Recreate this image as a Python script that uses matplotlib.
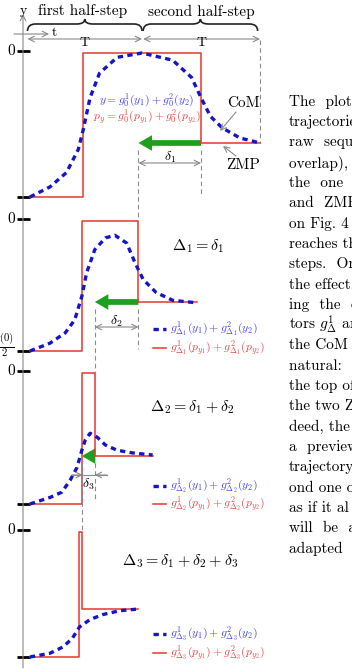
import matplotlib
matplotlib.use("Agg")
import matplotlib.pyplot as plt
from matplotlib.path import Path
from matplotlib.patches import PathPatch, FancyArrowPatch

plt.rcParams['mathtext.fontset'] = 'cm'
plt.rcParams['font.family'] = ['cmr10', 'DejaVu Serif']
plt.rcParams['axes.formatter.use_mathtext'] = True

# --- data (time in units of T, value 0 = start level, 1 = "0" line) ---
zmp_rise = [0.50, 0.49, 0.49, 0.47]
zmp_fall = [1.50, 0.97, 0.60, 0.49]
zmp_end = [2.00, 1.47, 1.09, 0.97]
zmp_start = 0.05
zmp_top = 1.0
zmp_final = [0.375, 0.377, 0.366, 0.384]

com_t = [
    [0.05, 0.22, 0.36, 0.46, 0.50, 0.56, 0.64, 0.79, 1.00, 1.26, 1.42, 1.50, 1.58, 1.68, 1.83, 2.00],
    [0.05, 0.22, 0.35, 0.43, 0.49, 0.53, 0.60, 0.69, 0.77, 0.87, 0.94, 1.01, 1.12, 1.26, 1.47],
    [0.05, 0.22, 0.32, 0.39, 0.45, 0.49, 0.52, 0.56, 0.62, 0.69, 0.79, 0.92, 1.09],
    [0.05, 0.22, 0.33, 0.41, 0.47, 0.56, 0.67, 0.81, 0.97],
]
com_y = [
    [0.00, 0.07, 0.17, 0.33, 0.46, 0.69, 0.86, 0.97, 1.00, 0.95, 0.83, 0.69, 0.56, 0.48, 0.41, 0.375],
    [0.00, 0.06, 0.14, 0.24, 0.42, 0.60, 0.78, 0.87, 0.89, 0.83, 0.68, 0.55, 0.45, 0.39, 0.37],
    [0.00, 0.05, 0.09, 0.18, 0.28, 0.41, 0.49, 0.54, 0.51, 0.45, 0.41, 0.39, 0.374],
    [0.00, 0.03, 0.08, 0.15, 0.24, 0.30, 0.34, 0.37, 0.384],
]
delta_names = [r'$\delta_1$', r'$\delta_2$', r'$\delta_3$']
delta_titles = [r'$\Delta_1 = \delta_1$', r'$\Delta_2 = \delta_1 + \delta_2$',
                r'$\Delta_3 = \delta_1 + \delta_2 + \delta_3$']
legend_com = [r'$g^1_{\Delta_%d}(y_1) + g^2_{\Delta_%d}(y_2)$' % (k, k) for k in (1, 2, 3)]
legend_zmp = [r'$g^1_{\Delta_%d}(p_{y_1}) + g^2_{\Delta_%d}(p_{y_2})$' % (k, k) for k in (1, 2, 3)]
side_text = ["The  plots  of", "trajectories", "raw  sequence", "overlap),  the",
             "the  one  of", "and  ZMP", "on Fig. 4 (b)", "reaches the", "steps.  On",
             "the effect of", "ing  the  co", r"tors $g^1_\Delta$ and", "the CoM",
             "natural:  the", "the top of", "the two ZMP", "deed, the", "a  preview",
             "trajectory", "ond one of", "as if it al", "will  be  a", "adapted  to"]

# --- layout (pixels) ---
W, H = 352, 670
t0_px, T_px = 24, 118
base_px = [197, 351, 504, 657]
top_px = [53, 221, 373, 532]

RED = '#e8342c'
BLUE = '#1414c8'
BLUE_TXT = '#4646e6'
RED_TXT = '#e64848'
GRAY = '#8a8a8a'
GREEN = '#1ea01e'


def X(t):
    return t0_px + t * T_px


def Y(i, v):
    return base_px[i] - v * (base_px[i] - top_px[i])


fig = plt.figure(figsize=(W / 100, H / 100), dpi=100)
ax = fig.add_axes([0, 0, 1, 1])
ax.set_xlim(0, W)
ax.set_ylim(H, 0)
ax.axis('off')

# axes arrows
ax.annotate('', xy=(23, 14), xytext=(23, 668),
            arrowprops=dict(arrowstyle='->', color=GRAY, lw=0.8, shrinkA=0, shrinkB=0))
ax.annotate('', xy=(49, 34), xytext=(14, 34),
            arrowprops=dict(arrowstyle='->', color=GRAY, lw=0.8, shrinkA=0, shrinkB=0))
ax.text(23, 11, 'y', ha='center', va='center', fontsize=10)
ax.text(54, 33, 't', ha='center', va='center', fontsize=10)

# braces for half-steps
def brace(x0, x1, y_end=31, y_flat=24, y_tip=19, r=8):
    xm = (x0 + x1) / 2
    verts = [(x0, y_end), (x0, y_flat), (x0 + r, y_flat), (xm - r, y_flat),
             (xm, y_flat), (xm, y_tip), (xm, y_flat), (xm + r, y_flat),
             (x1 - r, y_flat), (x1, y_flat), (x1, y_end)]
    codes = [Path.MOVETO, Path.CURVE3, Path.CURVE3, Path.LINETO,
             Path.CURVE3, Path.CURVE3, Path.CURVE3, Path.CURVE3,
             Path.LINETO, Path.CURVE3, Path.CURVE3]
    ax.add_patch(PathPatch(Path(verts, codes), fill=False, lw=1.2, ec='#222222'))


brace(X(0.03), X(1.0))
brace(X(1.01), X(1.98))
ax.text(X(0.5), 11, 'first half-step', ha='center', va='center', fontsize=11)
ax.text(X(1.5), 12, 'second half-step', ha='center', va='center', fontsize=11)
for a, b in [(0.03, 1.0), (1.01, 2.0)]:
    ax.annotate('', xy=(X(b), 39), xytext=(X(a), 39),
                arrowprops=dict(arrowstyle='<->', color=GRAY, lw=0.8, shrinkA=0, shrinkB=0))
    ax.text(X((a + b) / 2), 43, 'T', ha='center', va='center', fontsize=10)
ax.plot([X(2.0), X(2.0)], [40, Y(0, zmp_final[0])], ls=(0, (4, 3)), color=GRAY, lw=0.8)

# ticks on the y axis
tick_labels = ['0', '', '0', r'$\frac{y(0)}{2}$', '0', '', '0', '']
tick_y = []
for i in range(4):
    tick_y += [Y(i, zmp_top) - 2, Y(i, 0)]
for yy, lab in zip(tick_y, tick_labels):
    ax.plot([17, 30], [yy, yy], color='black', lw=2, solid_capstyle='butt')
    if lab:
        ax.text(15, yy - (6 if lab != '0' else 0), lab, ha='right', va='center', fontsize=11)

# panels
for i in range(4):
    xs = [zmp_start, zmp_rise[i], zmp_rise[i], zmp_fall[i], zmp_fall[i], zmp_end[i]]
    vs = [0, 0, zmp_top, zmp_top, zmp_final[i], zmp_final[i]]
    ax.plot([X(t) for t in xs], [Y(i, v) for v in vs], color=RED, lw=1.1)
    ax.plot([X(t) for t in com_t[i]], [Y(i, v) for v in com_y[i]],
            color=BLUE, lw=2.4, ls=(0, (1.6, 1.3)))

# green shift arrows, delta markers, dashed guides
for i in range(3):
    t_from, t_to = zmp_fall[i], zmp_fall[i + 1]
    yy = Y(i, zmp_final[i])
    ax.add_patch(FancyArrowPatch((X(t_from), yy), (X(t_to), yy),
                                 arrowstyle='simple,head_length=1.3,head_width=1.5,tail_width=0.55',
                                 mutation_scale=7.5, color=GREEN, lw=0, shrinkA=0, shrinkB=0))
    # dashed guides
    ax.plot([X(t_to), X(t_to)], [yy + 7, top_px[i + 1]], ls=(0, (4, 3)), color=GRAY, lw=0.8)
    ax.plot([X(t_from), X(t_from)], [yy + 7, base_px[i] - 2], ls=(0, (4, 3)), color=GRAY, lw=0.8)

ay = [163, 327, 475]
for i in range(2):
    ax.annotate('', xy=(X(zmp_fall[i]), ay[i]), xytext=(X(zmp_fall[i + 1]), ay[i]),
                arrowprops=dict(arrowstyle='<->', color=GRAY, lw=0.8, shrinkA=0, shrinkB=0))
    ax.text(X((zmp_fall[i] + zmp_fall[i + 1]) / 2), ay[i] - 6, delta_names[i],
            ha='center', va='center', fontsize=10)
# delta3 drawn with arrows pointing inward
ax.annotate('', xy=(X(zmp_fall[3]) + 1, ay[2]), xytext=(X(zmp_fall[3]) - 10, ay[2]),
            arrowprops=dict(arrowstyle='->', color=GRAY, lw=0.8, shrinkA=0, shrinkB=0))
ax.annotate('', xy=(X(zmp_fall[2]), ay[2]), xytext=(X(zmp_fall[2]) + 12, ay[2]),
            arrowprops=dict(arrowstyle='->', color=GRAY, lw=0.8, shrinkA=0, shrinkB=0))
ax.plot([X(zmp_fall[3]) - 10, X(zmp_fall[2]) + 12], [ay[2], ay[2]], color=GRAY, lw=0.8)
ax.text(X((zmp_fall[2] + zmp_fall[3]) / 2), ay[2] + 9, delta_names[2],
        ha='center', va='center', fontsize=10)

# panel 1 labels
ax.text(147, 100, r'$y = g_0^1(y_1) + g_0^2(y_2)$', color=BLUE_TXT, ha='center', va='center', fontsize=8.5)
ax.text(147, 117, r'$p_y = g_0^1(p_{y_1}) + g_0^2(p_{y_2})$', color=RED_TXT, ha='center', va='center', fontsize=8.5)
ax.text(243, 103, 'CoM', ha='center', va='center', fontsize=11)
ax.annotate('', xy=(220, 131), xytext=(236, 112),
            arrowprops=dict(arrowstyle='->', color=GRAY, lw=0.8, shrinkA=0, shrinkB=0))
ax.text(243, 165, 'ZMP', ha='center', va='center', fontsize=11)
ax.annotate('', xy=(223, 146), xytext=(236, 156),
            arrowprops=dict(arrowstyle='->', color=GRAY, lw=0.8, shrinkA=0, shrinkB=0))

# delta titles and legends for panels 2-4
title_xy = [(198, 246), (192, 407), (180, 561)]
leg_y = [(329, 348), (486, 504), (634, 653)]
for k in range(3):
    ax.text(*title_xy[k], delta_titles[k], ha='center', va='center', fontsize=11.5)
    yb, yr = leg_y[k]
    ax.plot([153, 166], [yb, yb], color=BLUE, lw=2.4, ls=(0, (1.6, 1.3)))
    ax.plot([153, 166], [yr, yr], color=RED, lw=1.1)
    ax.text(170, yb, legend_com[k], color=BLUE_TXT, ha='left', va='center', fontsize=8.5)
    ax.text(170, yr, legend_zmp[k], color=RED_TXT, ha='left', va='center', fontsize=8.5)

# side column of body text (cut at the figure edge)
for n, line in enumerate(side_text):
    ax.text(289, 102 + n * 20.3, line, ha='left', va='center', fontsize=11, clip_on=False)

fig.savefig('out.png', dpi=100)
